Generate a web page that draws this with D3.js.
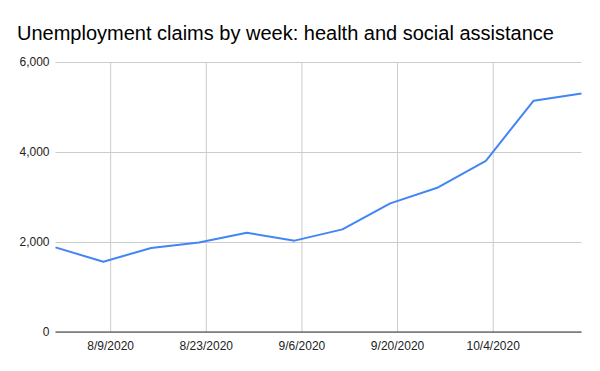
<!DOCTYPE html>
<html>
<head>
<meta charset="utf-8">
<script src="https://cdn.jsdelivr.net/npm/d3@7"></script>
<style>
  html, body { margin: 0; padding: 0; background: #fff; }
  svg { display: block; font-family: Arial, "Liberation Sans", sans-serif; }
</style>
</head>
<body>
<svg id="chart"></svg>
<script>
// weekly claims, week ending Saturday
const weekDates = ['2020-08-01', '2020-08-08', '2020-08-15', '2020-08-22', '2020-08-29', '2020-09-05',
  '2020-09-12', '2020-09-19', '2020-09-26', '2020-10-03', '2020-10-10', '2020-10-17'];
const claims = [1880, 1562, 1867, 1988, 2205, 2030, 2280, 2858, 3212, 3805, 5140, 5300];
const xTickDates = ['2020-08-09', '2020-08-23', '2020-09-06', '2020-09-20', '2020-10-04'];
const yTicks = [0, 2000, 4000, 6000];
const titleText = 'Unemployment claims by week: health and social assistance';

const width = 600;
const height = 371;
const plotLeft = 55.5;
const plotRight = 581.5;
const plotTop = 62;
const plotBottom = 332;

const parse = d3.utcParse('%Y-%m-%d');
const rows = weekDates.map((d, i) => ({ date: parse(d), value: claims[i] }));

const svg = d3.select('#chart')
  .attr('width', width)
  .attr('height', height);

const x = d3.scaleUtc()
  .domain(d3.extent(rows, d => d.date))
  .range([plotLeft, plotRight]);

const y = d3.scaleLinear()
  .domain([0, 6000])
  .range([plotBottom, plotTop]);

svg.append('text')
  .attr('x', 17)
  .attr('y', 40)
  .attr('fill', '#000')
  .attr('font-size', 20)
  .text(titleText);

// horizontal gridlines + labels
const yAxis = d3.axisLeft(y)
  .tickValues(yTicks)
  .tickSize(-(plotRight - plotLeft))
  .tickPadding(6)
  .tickFormat(d3.format(','));

svg.append('g')
  .attr('transform', `translate(${plotLeft},0)`)
  .call(yAxis)
  .call(g => g.select('.domain').remove())
  .call(g => g.selectAll('.tick line').attr('stroke', '#cccccc'))
  .call(g => g.selectAll('.tick text')
    .attr('fill', '#222')
    .attr('font-size', 12)
    .attr('font-family', 'Arial, "Liberation Sans", sans-serif'));

// vertical gridlines + date labels
const xAxis = d3.axisBottom(x)
  .tickValues(xTickDates.map(parse))
  .tickSize(-(plotBottom - plotTop))
  .tickPadding(9)
  .tickFormat(d3.utcFormat('%-m/%-d/%Y'));

svg.append('g')
  .attr('transform', `translate(0,${plotBottom})`)
  .call(xAxis)
  .call(g => g.select('.domain').remove())
  .call(g => g.selectAll('.tick line').attr('stroke', '#cccccc'))
  .call(g => g.selectAll('.tick text')
    .attr('fill', '#222')
    .attr('font-size', 12)
    .attr('font-family', 'Arial, "Liberation Sans", sans-serif'));

// baseline
svg.append('line')
  .attr('x1', plotLeft)
  .attr('x2', plotRight)
  .attr('y1', y(0))
  .attr('y2', y(0))
  .attr('stroke', '#333')
  .attr('stroke-width', 1);

const line = d3.line()
  .x(d => x(d.date))
  .y(d => y(d.value));

svg.append('path')
  .datum(rows)
  .attr('fill', 'none')
  .attr('stroke', '#4285f4')
  .attr('stroke-width', 2)
  .attr('stroke-linejoin', 'round')
  .attr('d', line);
</script>
</body>
</html>
